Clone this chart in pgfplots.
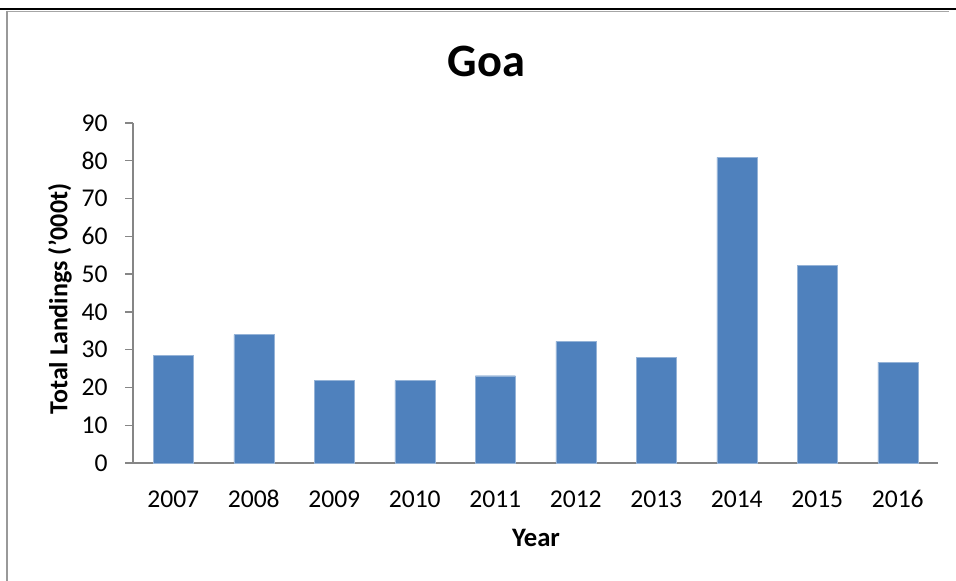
\documentclass[border=0pt]{standalone}
\usepackage{pgfplots}
\pgfplotsset{compat=1.18}
\usepackage{fontspec}
\setmainfont{Carlito}

\definecolor{barblue}{HTML}{4F81BD}
\definecolor{axisgray}{HTML}{868686}

\begin{document}
\begin{tikzpicture}
% page 956x581 px, 1px = 0.75pt
\useasboundingbox (0,0) rectangle (717pt,-435.75pt);
\draw[black, line width=1.5pt] (0,-7.1pt) -- (717pt,-7.1pt);
\draw[gray!70, line width=0.6pt] (6pt,-8.6pt) -- (712pt,-8.6pt);
\draw[gray!80, line width=1.1pt] (5.2pt,-8pt) -- (5.2pt,-435.75pt);

\begin{axis}[
    at={(99.75pt,-347.25pt)}, anchor=south west,
    scale only axis,
    width=603.75pt, height=255pt,
    xmin=-0.5, xmax=9.5,
    ymin=0, ymax=90,
    ytick={0,10,...,90},
    xtick=data,
    xticklabels={2007,2008,2009,2010,2011,2012,2013,2014,2015,2016},
    axis lines*=left,
    axis line style={axisgray, line width=1pt},
    tick align=outside,
    major tick length=6pt,
    ytick style={axisgray, line width=1pt},
    xtick style={draw=none},
    tick label style={font=\fontsize{19.2pt}{23pt}\selectfont, black},
    yticklabel style={xshift=-9.5pt},
    xticklabel style={anchor=base, yshift=-27pt},
    /pgf/number format/assume math mode=true,
    clip=false,
]
\addplot[ybar, bar width=30pt, fill=barblue, draw=barblue!60!white, line width=0.3pt]
  table[x=i, y=v] {
    i v
    0 28.5
    1 34.0
    2 21.9
    3 21.8
    4 23.1
    5 32.2
    6 27.9
    7 80.9
    8 52.4
    9 26.7
  };
\end{axis}

\node[anchor=base, font=\fontsize{34.8pt}{40pt}\selectfont\bfseries] at (364.9pt,-57.75pt) {Goa};
\node[anchor=base, font=\fontsize{20pt}{24pt}\selectfont\bfseries] at (402pt,-409.5pt) {Year};
\node[font=\fontsize{19.5pt}{23pt}\selectfont\bfseries, rotate=90] at (45pt,-224.25pt) {Total Landings ('000t)};
\end{tikzpicture}
\end{document}
